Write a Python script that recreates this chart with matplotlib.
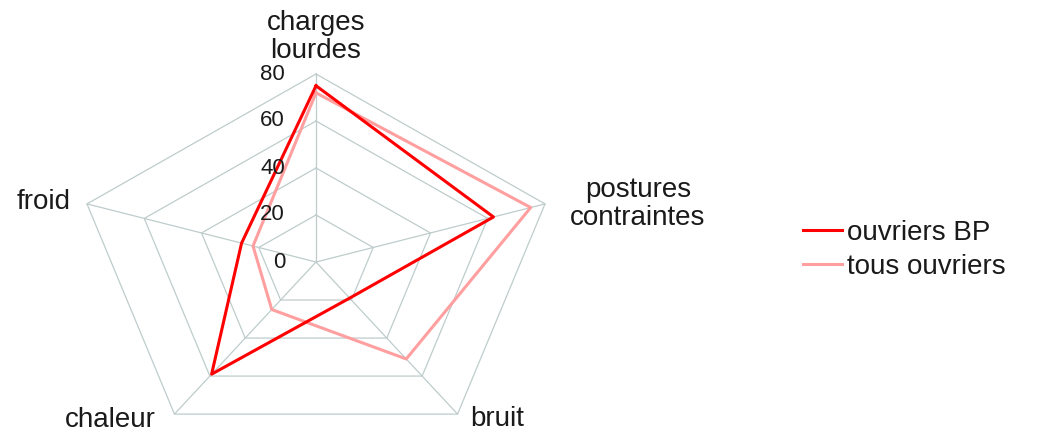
import numpy as np
import matplotlib
matplotlib.use("Agg")
import matplotlib.pyplot as plt

categories = ["charges\nlourdes", "postures\ncontraintes", "bruit", "chaleur", "froid"]
ouvriers_bp = [75, 62, 19, 59, 26]
tous_ouvriers = [72, 75, 51, 25, 22]
grid_levels = [0, 20, 40, 60, 80]
tick_labels = ["0", "20", "40", "60", "80"]
series_names = ["ouvriers BP", "tous ouvriers"]

plt.rcParams['font.family'] = ['Liberation Sans', 'DejaVu Sans']

W, H = 1051, 432
fig = plt.figure(figsize=(W / 100, H / 100), dpi=100)
ax = fig.add_axes([0, 0, 1, 1])
ax.set_axis_off()

# pixel geometry: centre and scales (px per unit)
cx, cy = 316, 262
sx, sy = 3.01, 2.35
ax.set_xlim((0 - cx) / sx, (W - cx) / sx)
ax.set_ylim((cy - H) / sy, (cy - 0) / sy)

n = len(categories)
theta = np.deg2rad(90 - 72 * np.arange(n))
ux, uy = np.cos(theta), np.sin(theta)

grid_col = '#bfcccc'
# pentagons
for lv in grid_levels[1:]:
    xs = np.append(lv * ux, lv * ux[0])
    ys = np.append(lv * uy, lv * uy[0])
    ax.plot(xs, ys, color=grid_col, lw=0.9, zorder=1)
# spokes
rmax = grid_levels[-1]
for i in range(n):
    ax.plot([0, rmax * ux[i]], [0, rmax * uy[i]], color=grid_col, lw=0.9, zorder=1)

# series
def closed(vals):
    v = np.asarray(vals, dtype=float)
    xs = v * ux
    ys = v * uy
    return np.append(xs, xs[0]), np.append(ys, ys[0])

xs, ys = closed(tous_ouvriers)
l2, = ax.plot(xs, ys, color='#ff9f9f', lw=2.2, zorder=2, label=series_names[1])
xs, ys = closed(ouvriers_bp)
l1, = ax.plot(xs, ys, color='#ff0000', lw=2.2, zorder=3, label=series_names[0])

# tick labels along top spoke
for lv, t in zip(grid_levels, tick_labels):
    ax.text((285 - cx) / sx, lv, t, ha='right', va='center', fontsize=16, color='#1a1a1a')

# category labels (pixel positions converted to data units)
label_px = [(316, 37, 'center'), (638, 204, 'center'), (497, 419, 'center'),
            (110, 420, 'center'), (44, 202, 'center')]
for cat, (px, py, ha) in zip(categories, label_px):
    ax.text((px - cx) / sx, (cy - py) / sy, cat, ha=ha, va='center',
            fontsize=20, color='#1a1a1a', linespacing=1.1)

leg = ax.legend(handles=[l1, l2], loc='center left',
                bbox_to_anchor=(803 / W, 1 - 250 / H), frameon=False,
                fontsize=20, handlelength=1.4, handletextpad=0.2,
                labelspacing=0.3, borderpad=0, borderaxespad=0)
for t in leg.get_texts():
    t.set_color('#1a1a1a')

fig.savefig('out.png', dpi=100)
